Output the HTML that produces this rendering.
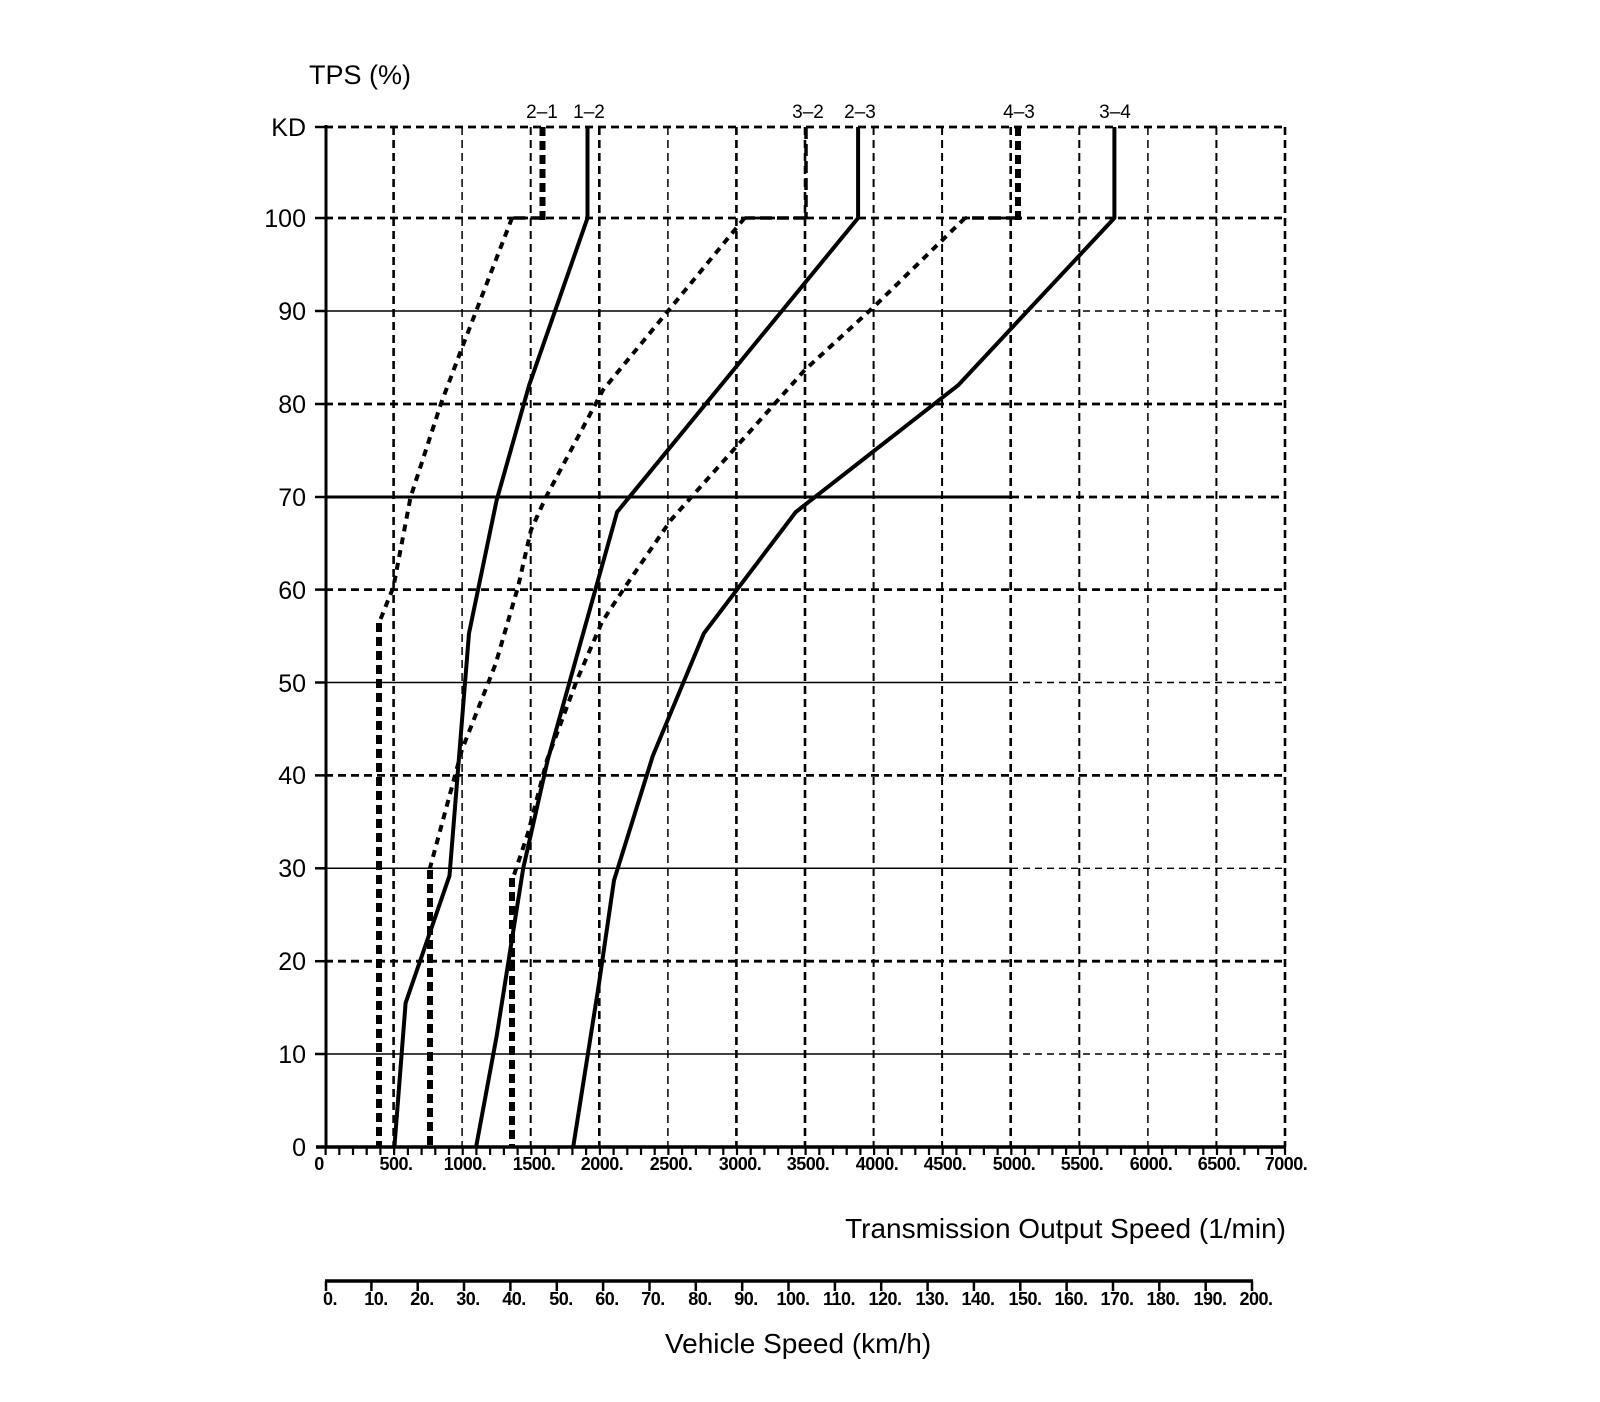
<!DOCTYPE html>
<html><head><meta charset="utf-8"><style>
html,body{margin:0;padding:0;background:#fff;}
svg{display:block;}
text{font-family:"Liberation Sans",Arial,sans-serif;fill:#000;}
</style></head><body>
<svg width="1600" height="1402" viewBox="0 0 1600 1402" xmlns="http://www.w3.org/2000/svg">
<rect width="1600" height="1402" fill="#fff"/>
<g stroke="#000" fill="none" stroke-dasharray="8 5">
<line x1="393.6" y1="127" x2="393.6" y2="1147" stroke-width="2.6"/>
<line x1="462.1" y1="127" x2="462.1" y2="1147" stroke-width="1.5"/>
<line x1="530.7" y1="127" x2="530.7" y2="1147" stroke-width="2"/>
<line x1="599.3" y1="127" x2="599.3" y2="1147" stroke-width="2.6"/>
<line x1="667.9" y1="127" x2="667.9" y2="1147" stroke-width="1.5"/>
<line x1="736.4" y1="127" x2="736.4" y2="1147" stroke-width="2.6"/>
<line x1="805" y1="127" x2="805" y2="1147" stroke-width="2.6"/>
<line x1="873.6" y1="127" x2="873.6" y2="1147" stroke-width="2"/>
<line x1="942.1" y1="127" x2="942.1" y2="1147" stroke-width="2"/>
<line x1="1010.7" y1="127" x2="1010.7" y2="1147" stroke-width="2.6"/>
<line x1="1079.3" y1="127" x2="1079.3" y2="1147" stroke-width="2"/>
<line x1="1147.9" y1="127" x2="1147.9" y2="1147" stroke-width="1.5"/>
<line x1="1216.4" y1="127" x2="1216.4" y2="1147" stroke-width="2"/>
<line x1="1285" y1="127" x2="1285" y2="1147" stroke-width="2.6"/>
</g>
<g stroke="#000" fill="none">
<g stroke-dasharray="8 5" stroke-width="2.8">
<line x1="325" y1="127" x2="1285" y2="127"/>
<line x1="325" y1="218" x2="1285" y2="218"/>
<line x1="325" y1="404" x2="1285" y2="404"/>
<line x1="325" y1="589.6" x2="1285" y2="589.6"/>
<line x1="325" y1="775.4" x2="1285" y2="775.4"/>
<line x1="325" y1="961.2" x2="1285" y2="961.2"/>
<line x1="1011" y1="497" x2="1285" y2="497"/>
</g>
<g stroke-dasharray="7 5" stroke-width="1.4">
<line x1="1011" y1="311" x2="1285" y2="311"/>
<line x1="1011" y1="682.5" x2="1285" y2="682.5"/>
<line x1="1011" y1="868.3" x2="1285" y2="868.3"/>
<line x1="1011" y1="1054" x2="1285" y2="1054"/>
</g>
<g stroke-width="1.5">
<line x1="325" y1="311" x2="1011" y2="311"/>
<line x1="325" y1="682.5" x2="1011" y2="682.5"/>
<line x1="325" y1="868.3" x2="1011" y2="868.3"/>
<line x1="325" y1="1054" x2="1011" y2="1054"/>
</g>
<line x1="325" y1="497" x2="1011" y2="497" stroke-width="3"/>
</g>
<g stroke="#000" fill="none">
<line x1="326" y1="125" x2="326" y2="1148" stroke-width="3"/>
<line x1="316" y1="1147" x2="1286" y2="1147" stroke-width="3.5"/>
<g stroke-width="2.5">
<line x1="315" y1="127" x2="326" y2="127"/><line x1="315" y1="218" x2="326" y2="218"/>
<line x1="315" y1="311" x2="326" y2="311"/><line x1="315" y1="404" x2="326" y2="404"/>
<line x1="315" y1="497" x2="326" y2="497"/><line x1="315" y1="589.6" x2="326" y2="589.6"/>
<line x1="315" y1="682.5" x2="326" y2="682.5"/><line x1="315" y1="775.4" x2="326" y2="775.4"/>
<line x1="315" y1="868.3" x2="326" y2="868.3"/><line x1="315" y1="961.2" x2="326" y2="961.2"/>
<line x1="315" y1="1054" x2="326" y2="1054"/>
</g>
<path stroke-width="2.2" d="M325.6 1147v8M339.3 1147v8M353 1147v8M366.7 1147v8M380.4 1147v8M394.1 1147v8M407.9 1147v8M421.6 1147v8M435.3 1147v8M449 1147v8M462.7 1147v8M476.4 1147v8M490.1 1147v8M503.9 1147v8M517.6 1147v8M531.3 1147v8M545 1147v8M558.7 1147v8M572.4 1147v8M586.1 1147v8M599.9 1147v8M613.6 1147v8M627.3 1147v8M641 1147v8M654.7 1147v8M668.4 1147v8M682.1 1147v8M695.9 1147v8M709.6 1147v8M723.3 1147v8M737 1147v8M750.7 1147v8M764.4 1147v8M778.1 1147v8M791.9 1147v8M805.6 1147v8M819.3 1147v8M833 1147v8M846.7 1147v8M860.4 1147v8M874.1 1147v8M887.9 1147v8M901.6 1147v8M915.3 1147v8M929 1147v8M942.7 1147v8M956.4 1147v8M970.1 1147v8M983.9 1147v8M997.6 1147v8M1011.3 1147v8M1025 1147v8M1038.7 1147v8M1052.4 1147v8M1066.1 1147v8M1079.9 1147v8M1093.6 1147v8M1107.3 1147v8M1121 1147v8M1134.7 1147v8M1148.4 1147v8M1162.1 1147v8M1175.9 1147v8M1189.6 1147v8M1203.3 1147v8M1217 1147v8M1230.7 1147v8M1244.4 1147v8M1258.1 1147v8M1271.9 1147v8M1285 1147v8"/>
<line x1="325" y1="1281" x2="1253" y2="1281" stroke-width="3.5"/>
<path stroke-width="2.5" d="M326 1281v10M371.4 1281v10M417.7 1281v10M464 1281v10M510.4 1281v10M556.8 1281v10M603.1 1281v10M649.5 1281v10M695.8 1281v10M742.2 1281v10M788.5 1281v10M834.9 1281v10M881.2 1281v10M927.6 1281v10M973.9 1281v10M1020.3 1281v10M1066.6 1281v10M1113 1281v10M1159.3 1281v10M1205.7 1281v10M1252 1281v10"/>
</g>
<g stroke="#000" fill="none" stroke-linejoin="round">
<g stroke-width="4">
<polyline points="587.5,127 587.5,218 529.2,385 496.6,500.4 469,633.3 449.5,875.7 405.6,1003 394.4,1147"/>
<polyline points="858.1,127 858.1,218 617.1,512 547.6,760.5 523.2,868.3 496.6,1036.4 476.1,1147"/>
<polyline points="1114.4,127 1114.4,218 958.2,385.2 795.8,512 703.9,633.3 652.8,755.9 614,880.4 598.7,985.4 573.2,1147"/>
</g>
<g stroke-width="4" stroke-dasharray="7 6">
<polyline points="512,218 462.3,347 441.2,403 410.6,497 393.4,587 379,623"/>
<polyline points="744.6,218 603,390 546,497 531,530 518,587 495.6,664 461.9,750 430,868"/>
<polyline points="965,218 873.7,307 804.8,370 670.9,520 625,587 602,622 577,680 547,760 528,833 513,878"/>
</g>
<g stroke-width="3.5" stroke-dasharray="12 5">
<line x1="542.5" y1="218" x2="512" y2="218"/>
<line x1="806" y1="218" x2="744.6" y2="218"/>
<line x1="1018" y1="218" x2="965" y2="218"/>
</g>
<g stroke-width="6" stroke-dasharray="9 5">
<line x1="542.5" y1="127" x2="542.5" y2="220"/>
<line x1="1018" y1="127" x2="1018" y2="220"/>
<line x1="379" y1="623" x2="379" y2="1147"/>
<line x1="430" y1="870" x2="430" y2="1147"/>
<line x1="512" y1="878" x2="512" y2="1147"/>
</g>
<line x1="806" y1="127" x2="806" y2="218" stroke-width="3.5" stroke-dasharray="12 5"/>
</g>
<g font-size="25" text-anchor="end">
<text x="306" y="136">KD</text>
<text x="306" y="227">100</text>
<text x="306" y="320">90</text>
<text x="306" y="413">80</text>
<text x="306" y="506">70</text>
<text x="306" y="599">60</text>
<text x="306" y="692">50</text>
<text x="306" y="784">40</text>
<text x="306" y="877">30</text>
<text x="306" y="970">20</text>
<text x="306" y="1063">10</text>
<text x="306" y="1156">0</text>
</g>
<text x="309" y="84" font-size="27">TPS (%)</text>
<g font-size="19" text-anchor="middle">
<text x="542" y="118">2–1</text><text x="589" y="118">1–2</text>
<text x="808" y="118">3–2</text><text x="860" y="118">2–3</text>
<text x="1019" y="118">4–3</text><text x="1115" y="118">3–4</text>
</g>
<g font-size="18" text-anchor="middle" font-weight="bold" style="letter-spacing:-0.5px">
<text x="319" y="1170">0</text>
<text x="396" y="1170">500.</text>
<text x="465" y="1170">1000.</text>
<text x="534" y="1170">1500.</text>
<text x="602" y="1170">2000.</text>
<text x="671" y="1170">2500.</text>
<text x="740" y="1170">3000.</text>
<text x="808" y="1170">3500.</text>
<text x="877" y="1170">4000.</text>
<text x="945" y="1170">4500.</text>
<text x="1014" y="1170">5000.</text>
<text x="1082" y="1170">5500.</text>
<text x="1151" y="1170">6000.</text>
<text x="1219" y="1170">6500.</text>
<text x="1286" y="1170">7000.</text>
</g>
<text x="1286" y="1238" font-size="28" text-anchor="end">Transmission Output Speed (1/min)</text>
<g font-size="18" text-anchor="middle" font-weight="bold" style="letter-spacing:-0.5px">
<text x="330" y="1305">0.</text>
<text x="376" y="1305">10.</text>
<text x="422" y="1305">20.</text>
<text x="468" y="1305">30.</text>
<text x="514" y="1305">40.</text>
<text x="561" y="1305">50.</text>
<text x="607" y="1305">60.</text>
<text x="653" y="1305">70.</text>
<text x="700" y="1305">80.</text>
<text x="746" y="1305">90.</text>
<text x="793" y="1305">100.</text>
<text x="839" y="1305">110.</text>
<text x="885" y="1305">120.</text>
<text x="932" y="1305">130.</text>
<text x="978" y="1305">140.</text>
<text x="1025" y="1305">150.</text>
<text x="1071" y="1305">160.</text>
<text x="1117" y="1305">170.</text>
<text x="1163" y="1305">180.</text>
<text x="1210" y="1305">190.</text>
<text x="1256" y="1305">200.</text>
</g>
<text x="665" y="1353" font-size="28">Vehicle Speed (km/h)</text>
</svg>
</body></html>
